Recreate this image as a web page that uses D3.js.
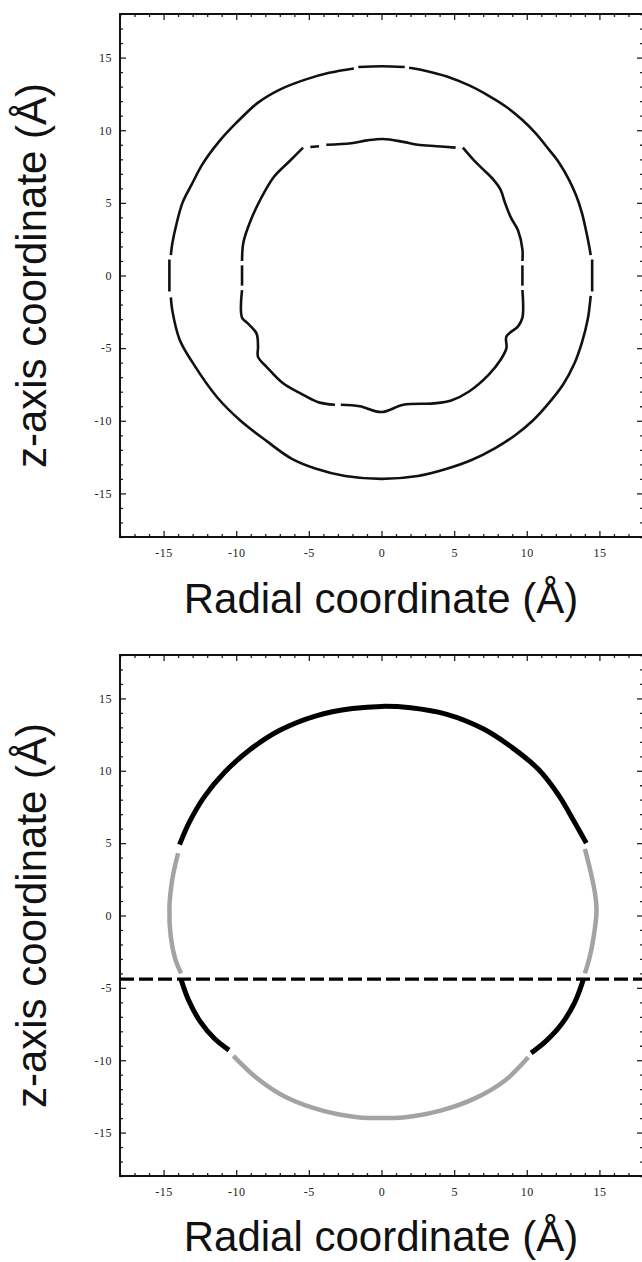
<!DOCTYPE html>
<html>
<head>
<meta charset="utf-8">
<title>z-axis vs radial coordinate</title>
<script src="https://cdn.jsdelivr.net/npm/d3@7"></script>
<style>
  body { margin: 0; background: #fff; }
  svg { display: block; }
  .tick text { font-family: "Liberation Serif", "DejaVu Serif", serif; font-size: 12px; fill: #222; letter-spacing: 0.5px; }
  .title { font-family: "Liberation Sans", Arial, sans-serif; font-size: 42px; fill: #111; }
</style>
</head>
<body>
<div id="chart"></div>
<script>
// ---- data (r, z) in Angstrom ----
const majorTicks = [-15, -10, -5, 0, 5, 10, 15];
const minorTicks = [-18, -17, -16, -14, -13, -12, -11, -9, -8, -7, -6, -4, -3, -2, -1,
                    1, 2, 3, 4, 6, 7, 8, 9, 11, 12, 13, 14, 16, 17, 18];

// top panel: outer contour, pieces between the small gaps
const outerTopDash = [[-1.6, 14.35], [0, 14.4], [1.6, 14.35]];
const outerRightUp = [[1.9, 14.3], [3, 14.1], [4.5, 13.7], [6, 13.1], [7.5, 12.3], [8.6, 11.6],
  [9.7, 10.7], [10.6, 9.8], [11.5, 8.7], [12.2, 7.8], [12.9, 6.6], [13.4, 5.5], [13.8, 4.3],
  [14.1, 3.0], [14.3, 2.0], [14.4, 1.4]];
const outerRightMid = [[14.5, 1.1], [14.5, -1.1]];
const outerBottom = [[14.4, -1.4], [14.2, -3.0], [13.8, -4.6], [13.3, -6.0], [12.5, -7.5],
  [11.5, -8.8], [10.4, -10.0], [9.2, -11.0], [7.8, -11.9], [6.2, -12.7], [4.5, -13.3],
  [2.5, -13.8], [0, -14.0], [-2.5, -13.8], [-4.5, -13.3], [-6.2, -12.6], [-7.9, -11.4],
  [-9.7, -10.0], [-11.3, -8.4], [-13.0, -6.0], [-13.9, -4.4], [-14.4, -2.4], [-14.5, -1.5]];
const outerLeftMid = [[-14.6, -1.1], [-14.6, 1.1]];
const outerLeftUp = [[-14.5, 1.4], [-14.4, 2.2], [-14.1, 3.6], [-13.7, 5.0], [-13.1, 6.2],
  [-12.3, 7.7], [-11.2, 9.2], [-10.0, 10.5], [-8.5, 11.9], [-7.0, 12.8], [-5.2, 13.5],
  [-3.6, 13.95], [-1.9, 14.25]];

// top panel: inner contour
const innerTopLeft = [[-4.9, 8.85], [-4.3, 8.9]];
const innerTop = [[-3.8, 9.0], [-2.1, 9.1], [-1.0, 9.3], [0.1, 9.4], [1.5, 9.2],
  [2.5, 9.0], [3.8, 8.9], [5.1, 8.8]];
const innerRightUp = [[5.6, 8.8], [6.3, 8.0], [7.0, 7.3], [7.7, 6.6], [8.2, 5.9], [8.5, 5.0],
  [8.9, 4.0], [9.4, 3.1], [9.7, 1.8], [9.7, 1.0]];
const innerRightMid = [[9.7, 0.7], [9.7, -0.7]];
const innerBottomRight = [[9.7, -1.0], [9.7, -2.9], [9.4, -3.5], [8.6, -4.2], [8.6, -5.0],
  [8.2, -5.8], [7.4, -6.8], [6.0, -8.0], [4.8, -8.6], [3.6, -8.8], [1.5, -8.9], [0, -9.4],
  [-1.5, -9.0], [-2.8, -8.9]];
const innerBottomLeft = [[-3.2, -8.9], [-4.4, -8.7], [-5.6, -8.1], [-6.8, -7.4], [-7.9, -6.3],
  [-8.5, -5.6], [-8.5, -4.9], [-8.6, -4.0], [-9.2, -3.3], [-9.6, -2.9], [-9.6, -1.0]];
const innerLeftMid = [[-9.6, -0.7], [-9.6, 0.7]];
const innerLeftUp = [[-9.6, 1.0], [-9.5, 2.3], [-9.0, 3.8], [-8.3, 5.3], [-7.4, 6.8],
  [-6.3, 7.9], [-5.4, 8.8]];

const topContours = [outerTopDash, outerRightUp, outerRightMid, outerBottom, outerLeftMid,
  outerLeftUp, innerTopLeft, innerTop, innerRightUp, innerRightMid, innerBottomRight,
  innerBottomLeft, innerLeftMid, innerLeftUp];

// bottom panel: one contour, black and grey pieces
const arcTop = [[-13.9, 4.9], [-13.2, 6.5], [-12.2, 8.2], [-10.8, 9.9], [-9, 11.5], [-7, 12.8],
  [-4.5, 13.8], [-2, 14.3], [0, 14.45], [2, 14.35], [4.5, 13.9], [7, 12.9], [9, 11.6],
  [10.8, 10.1], [12.2, 8.3], [13.2, 6.6], [14.1, 5.0]];
const arcLeftSide = [[-14.0, 4.3], [-14.4, 2.5], [-14.6, 0.5], [-14.5, -1.5], [-14.2, -3.0],
  [-13.8, -4.0]];
const arcRightSide = [[14.0, 4.6], [14.4, 3], [14.7, 1.5], [14.8, 0.3], [14.6, -1.5],
  [14.3, -3], [14.0, -4.0]];
const arcLowLeft = [[-13.8, -4.4], [-13.3, -5.8], [-12.5, -7.3], [-11.5, -8.5], [-10.5, -9.3]];
const arcLowRight = [[13.9, -4.4], [13.3, -6], [12.4, -7.5], [11.3, -8.7], [10.3, -9.5]];
const arcBottom = [[-10.2, -9.7], [-8.5, -11.3], [-6.5, -12.6], [-4, -13.5], [-1.5, -13.95],
  [0, -14.0], [1.5, -13.95], [4, -13.5], [6.5, -12.6], [8.5, -11.4], [10.1, -9.8]];

const blackPieces = [arcTop, arcLowLeft, arcLowRight];
const greyPieces = [arcLeftSide, arcRightSide, arcBottom];
const cutLevel = -4.4;

// ---- drawing ----
const W = 642, H = 1262;
const svg = d3.select("#chart").append("svg")
  .attr("width", W).attr("height", H);

function panel(top, bottom, titleY) {
  const x = d3.scaleLinear().domain([-18, 18]).range([120, 643]);
  const y = d3.scaleLinear().domain([-18, 18]).range([bottom, top]);
  const g = svg.append("g");

  const fmt = d => d < 0 ? "-" + Math.abs(d) : String(d);

  // minor ticks all round
  g.append("g").attr("transform", `translate(0,${bottom})`)
    .call(d3.axisBottom(x).tickValues(minorTicks).tickSize(-3).tickFormat(""));
  g.append("g").attr("transform", `translate(0,${top})`)
    .call(d3.axisTop(x).tickValues(minorTicks).tickSize(-3).tickFormat(""));
  g.append("g").attr("transform", "translate(120,0)")
    .call(d3.axisLeft(y).tickValues(minorTicks).tickSize(-3).tickFormat(""));
  g.append("g").attr("transform", "translate(643,0)")
    .call(d3.axisRight(y).tickValues(minorTicks).tickSize(-3).tickFormat(""));

  // major ticks
  g.append("g").attr("transform", `translate(0,${bottom})`)
    .call(d3.axisBottom(x).tickValues(majorTicks).tickSize(-6).tickPadding(11).tickFormat(fmt));
  g.append("g").attr("transform", `translate(0,${top})`)
    .call(d3.axisTop(x).tickValues(majorTicks).tickSize(-6).tickFormat(""));
  g.append("g").attr("transform", "translate(120,0)")
    .call(d3.axisLeft(y).tickValues(majorTicks).tickSize(-6).tickPadding(8).tickFormat(fmt));
  g.append("g").attr("transform", "translate(643,0)")
    .call(d3.axisRight(y).tickValues(majorTicks).tickSize(-6).tickFormat(""));

  g.selectAll(".domain").remove();
  g.selectAll(".tick line").attr("stroke", "#222").attr("stroke-width", 1.3);

  g.append("rect")
    .attr("x", 120).attr("y", top)
    .attr("width", 523).attr("height", bottom - top)
    .attr("fill", "none").attr("stroke", "#111").attr("stroke-width", 2);

  // titles
  g.append("text").attr("class", "title")
    .attr("x", 381).attr("y", titleY)
    .attr("text-anchor", "middle")
    .text("Radial coordinate (Å)");
  g.append("text").attr("class", "title")
    .attr("transform", `translate(46,${(top + bottom) / 2}) rotate(-90)`)
    .attr("text-anchor", "middle")
    .text("z-axis coordinate (Å)");

  const line = d3.line().x(d => x(d[0])).y(d => y(d[1]))
    .curve(d3.curveCatmullRom.alpha(0.5));
  return { g, x, y, line };
}

// top panel
const p1 = panel(14, 537, 613);
p1.g.append("g").selectAll("path")
  .data(topContours)
  .join("path")
  .attr("d", p1.line)
  .attr("fill", "none")
  .attr("stroke", "#111")
  .attr("stroke-width", 2.6)
  .attr("stroke-linejoin", "round");

// bottom panel
const p2 = panel(655, 1176, 1251);
p2.g.append("g").selectAll("path")
  .data(greyPieces)
  .join("path")
  .attr("d", p2.line)
  .attr("fill", "none")
  .attr("stroke", "#a3a3a3")
  .attr("stroke-width", 4.5);
p2.g.append("g").selectAll("path")
  .data(blackPieces)
  .join("path")
  .attr("d", p2.line)
  .attr("fill", "none")
  .attr("stroke", "#000")
  .attr("stroke-width", 5);
p2.g.append("line")
  .attr("x1", p2.x(-18)).attr("x2", p2.x(18))
  .attr("y1", p2.y(cutLevel)).attr("y2", p2.y(cutLevel))
  .attr("stroke", "#000")
  .attr("stroke-width", 3.2)
  .attr("stroke-dasharray", "14,5");
</script>
</body>
</html>
